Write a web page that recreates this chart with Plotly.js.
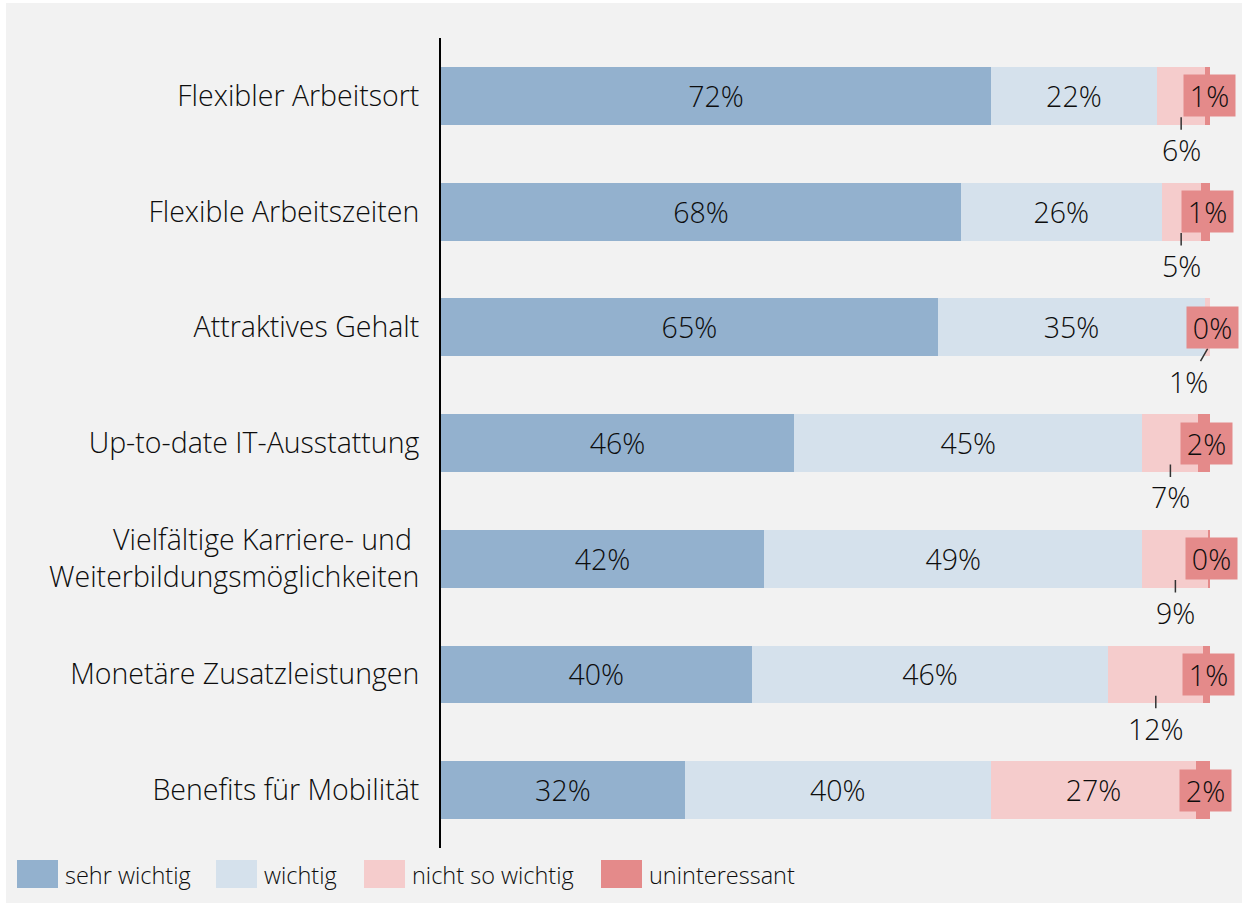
<!DOCTYPE html>
<html>
<head>
<meta charset="utf-8">
<script src="https://cdn.plot.ly/plotly-3.0.1.min.js"></script>
<style>
  html, body { margin: 0; padding: 0; background: #ffffff; width: 1242px; height: 903px; overflow: hidden; }
  #chart { position: absolute; left: 6px; top: 3px; width: 1236px; height: 900px; }
</style>
</head>
<body>
<div id="chart"></div>
<script>
// ---- data ----
const categories = [
  'Flexibler Arbeitsort',
  'Flexible Arbeitszeiten',
  'Attraktives Gehalt',
  'Up-to-date IT-Ausstattung',
  'Vielfältige Karriere- und\u00a0<br>Weiterbildungsmöglichkeiten',
  'Monetäre Zusatzleistungen',
  'Benefits für Mobilität'
];
const seriesNames = ['sehr wichtig', 'wichtig', 'nicht so wichtig', 'uninteressant'];
// segment lengths as drawn (share of 100)
const sehrWichtig    = [71.5, 67.6, 64.6, 45.9, 42.0, 40.4, 31.7];
const wichtig        = [21.6, 26.1, 34.8, 45.3, 49.2, 46.4, 39.8];
const nichtSoWichtig = [6.3, 5.1, 0.6, 7.3, 8.6, 12.3, 26.7];
const uninteressant  = [0.6, 1.2, 0.0, 1.5, 0.2, 0.9, 1.8];
// published (rounded) percentages shown as labels
const sehrWichtigPct    = [72, 68, 65, 46, 42, 40, 32];
const wichtigPct        = [22, 26, 35, 45, 49, 46, 40];
const nichtSoWichtigPct = [6, 5, 1, 7, 9, 12, 27];
const uninteressantPct  = [1, 1, 0, 2, 0, 1, 2];

// ---- style ----
const colors = ['#93b1ce', '#d5e1ec', '#f5cccc', '#e48a8a'];
const FONT = '"Open Sans", "Noto Sans", sans-serif';
const WEIGHT = 350;
const TXT = '#0d0d0d';
const LABEL_SIZE = 28.5;

// geometry helpers (page pixel -> paper coords) for the hand-drawn legend
const DIV_L = 6, DIV_T = 3;
const M = { l: 435, r: 32, t: 35, b: 55 };
const PW = 1236 - M.l - M.r, PH = 900 - M.t - M.b;
const px = p => (p - DIV_L - M.l) / PW;
const py = p => (900 - M.b - (p - DIV_T)) / PH;

const yIdx = categories.map((_, i) => i);
const segs = [sehrWichtig, wichtig, nichtSoWichtig, uninteressant];
const pcts = [sehrWichtigPct, wichtigPct, nichtSoWichtigPct, uninteressantPct];
const mkFont = (size) => ({ family: FONT, size: size, color: TXT, weight: WEIGHT });

const traces = segs.map((vals, s) => {
  let text;
  if (s === 0 || s === 1) text = pcts[s].map(v => v + '%');
  else if (s === 2) text = pcts[s].map((v, i) => vals[i] >= 15 ? v + '%' : '');
  else text = vals.map(() => '');
  return {
    type: 'bar', orientation: 'h',
    name: seriesNames[s],
    x: vals, y: yIdx,
    width: 0.5,
    marker: { color: colors[s], line: { width: 0 } },
    text: text, textposition: 'inside', insidetextanchor: 'middle',
    textangle: 0, constraintext: 'none',
    textfont: mkFont(LABEL_SIZE),
    hoverinfo: 'skip', showlegend: false
  };
});

const annotations = [];
const nichtShift = [0, 0, -19, 0, 0, 0, 0];
categories.forEach((c, i) => {
  const base2 = sehrWichtig[i] + wichtig[i];
  if (nichtSoWichtig[i] < 15) {
    annotations.push({
      x: base2 + nichtSoWichtig[i] / 2, y: i + 0.185, xref: 'x', yref: 'y',
      text: nichtSoWichtigPct[i] + '%', showarrow: true, arrowhead: 0,
      arrowwidth: 1.5, arrowcolor: '#333', ax: nichtShift[i], ay: 33,
      standoff: 0, font: mkFont(LABEL_SIZE)
    });
  }
  const base3 = base2 + nichtSoWichtig[i];
  annotations.push({
    x: base3 + uninteressant[i] / 2, y: i, xref: 'x', yref: 'y',
    text: uninteressantPct[i] + '%', showarrow: false, xshift: 2,
    bgcolor: colors[3], width: 49, height: 39, align: 'center', valign: 'middle',
    font: mkFont(LABEL_SIZE)
  });
});

// legend (hand-drawn for large swatches)
const legendX = [17, 216, 364, 601];
const shapes = [];
seriesNames.forEach((n, s) => {
  shapes.push({
    type: 'rect', xref: 'paper', yref: 'paper', layer: 'above',
    x0: px(legendX[s]), x1: px(legendX[s] + 41), y0: py(888), y1: py(860),
    fillcolor: colors[s], line: { width: 0 }
  });
  annotations.push({
    xref: 'paper', yref: 'paper', x: px(legendX[s] + 46), y: py(875),
    xanchor: 'left', yanchor: 'middle', showarrow: false, text: n,
    font: mkFont(23.5)
  });
});

const layout = {
  width: 1236, height: 900,
  margin: M,
  paper_bgcolor: '#f2f2f2', plot_bgcolor: '#f2f2f2',
  barmode: 'stack',
  showlegend: false,
  font: { family: FONT, color: TXT },
  xaxis: { range: [0, 100], showgrid: false, zeroline: false, showticklabels: false, showline: false, fixedrange: true },
  yaxis: {
    range: [6.5, -0.5], tickmode: 'array', tickvals: yIdx, ticktext: categories,
    showgrid: false, zeroline: false, showline: true, linecolor: '#000', linewidth: 2,
    ticks: 'outside', ticklen: 14, tickcolor: 'rgba(0,0,0,0)',
    tickfont: mkFont(LABEL_SIZE)
  },
  annotations: annotations,
  shapes: shapes
};

Plotly.newPlot('chart', traces, layout, { displayModeBar: false, staticPlot: true });
</script>
</body>
</html>
